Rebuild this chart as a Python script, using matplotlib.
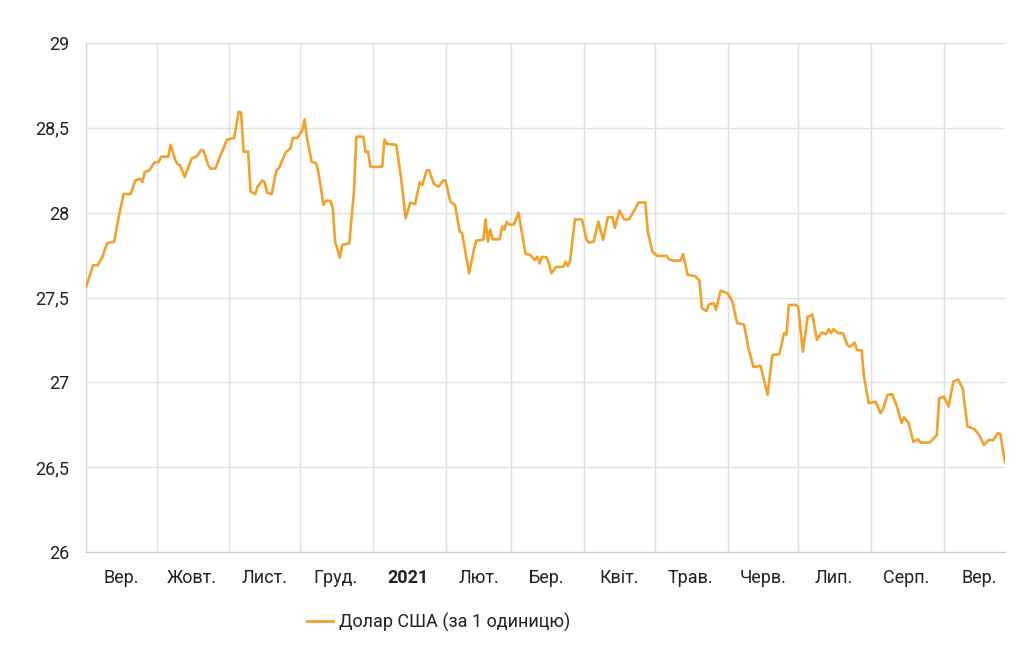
import matplotlib
matplotlib.use("Agg")
import matplotlib.pyplot as plt
from matplotlib.lines import Line2D
import pandas as pd

dates = [
    "2020-09-01", "2020-09-04", "2020-09-06", "2020-09-08", "2020-09-10", "2020-09-13", "2020-09-15",
    "2020-09-17", "2020-09-20", "2020-09-22", "2020-09-24", "2020-09-25", "2020-09-26", "2020-09-28",
    "2020-09-30", "2020-10-02", "2020-10-03", "2020-10-06", "2020-10-07", "2020-10-09", "2020-10-10",
    "2020-10-11", "2020-10-13", "2020-10-14", "2020-10-16", "2020-10-18", "2020-10-20", "2020-10-21",
    "2020-10-23", "2020-10-24", "2020-10-26", "2020-10-28", "2020-10-31", "2020-11-03", "2020-11-05",
    "2020-11-06", "2020-11-07", "2020-11-09", "2020-11-10", "2020-11-12", "2020-11-13", "2020-11-15",
    "2020-11-16", "2020-11-17", "2020-11-19", "2020-11-21", "2020-11-22", "2020-11-25", "2020-11-27",
    "2020-11-28", "2020-11-30", "2020-12-02", "2020-12-03", "2020-12-04", "2020-12-06", "2020-12-08",
    "2020-12-09", "2020-12-11", "2020-12-12", "2020-12-14", "2020-12-15", "2020-12-16", "2020-12-18",
    "2020-12-19", "2020-12-22", "2020-12-24", "2020-12-25", "2020-12-28", "2020-12-29", "2020-12-30",
    "2020-12-31", "2021-01-05", "2021-01-06", "2021-01-07", "2021-01-11", "2021-01-13", "2021-01-15",
    "2021-01-17", "2021-01-19", "2021-01-21", "2021-01-22", "2021-01-24", "2021-01-25", "2021-01-27",
    "2021-01-29", "2021-01-31", "2021-02-01", "2021-02-03", "2021-02-05", "2021-02-07", "2021-02-08",
    "2021-02-11", "2021-02-13", "2021-02-14", "2021-02-17", "2021-02-18", "2021-02-19", "2021-02-20",
    "2021-02-21", "2021-02-24", "2021-02-25", "2021-02-26", "2021-02-27", "2021-02-28", "2021-03-02",
    "2021-03-04", "2021-03-07", "2021-03-09", "2021-03-11", "2021-03-12", "2021-03-13", "2021-03-14",
    "2021-03-16", "2021-03-17", "2021-03-18", "2021-03-20", "2021-03-23", "2021-03-24", "2021-03-25",
    "2021-03-26", "2021-03-28", "2021-03-31", "2021-04-02", "2021-04-03", "2021-04-05", "2021-04-07",
    "2021-04-09", "2021-04-11", "2021-04-13", "2021-04-14", "2021-04-16", "2021-04-18", "2021-04-20",
    "2021-04-22", "2021-04-24", "2021-04-27", "2021-04-28", "2021-04-30", "2021-05-02", "2021-05-06",
    "2021-05-07", "2021-05-09", "2021-05-12", "2021-05-13", "2021-05-15", "2021-05-18", "2021-05-20",
    "2021-05-21", "2021-05-23", "2021-05-24", "2021-05-26", "2021-05-27", "2021-05-29", "2021-06-01",
    "2021-06-03", "2021-06-05", "2021-06-08", "2021-06-10", "2021-06-12", "2021-06-15", "2021-06-18",
    "2021-06-20", "2021-06-23", "2021-06-25", "2021-06-26", "2021-06-27", "2021-06-30", "2021-07-01",
    "2021-07-03", "2021-07-05", "2021-07-06", "2021-07-07", "2021-07-09", "2021-07-11", "2021-07-13",
    "2021-07-14", "2021-07-15", "2021-07-16", "2021-07-18", "2021-07-20", "2021-07-22", "2021-07-23",
    "2021-07-25", "2021-07-26", "2021-07-28", "2021-07-29", "2021-07-31", "2021-08-03", "2021-08-05",
    "2021-08-06", "2021-08-08", "2021-08-10", "2021-08-12", "2021-08-14", "2021-08-15", "2021-08-17",
    "2021-08-19", "2021-08-21", "2021-08-22", "2021-08-26", "2021-08-29", "2021-08-30", "2021-09-01",
    "2021-09-03", "2021-09-05", "2021-09-07", "2021-09-09", "2021-09-11", "2021-09-13", "2021-09-14",
    "2021-09-16", "2021-09-18", "2021-09-20", "2021-09-22", "2021-09-24", "2021-09-25", "2021-09-27",
]

usd_rate = [
    27.56, 27.69, 27.69, 27.74, 27.82, 27.83, 27.98,
    28.11, 28.11, 28.19, 28.20, 28.18, 28.24, 28.25,
    28.295, 28.30, 28.33, 28.33, 28.40, 28.31, 28.285,
    28.28, 28.21, 28.25, 28.32, 28.33, 28.37, 28.365,
    28.28, 28.26, 28.26, 28.33, 28.43, 28.44, 28.595,
    28.59, 28.36, 28.36, 28.124, 28.11, 28.153, 28.19,
    28.18, 28.118, 28.11, 28.25, 28.26, 28.356, 28.38,
    28.44, 28.44, 28.487, 28.55, 28.44, 28.30, 28.29,
    28.23, 28.045, 28.07, 28.07, 28.026, 27.83, 27.735,
    27.81, 27.82, 28.124, 28.448, 28.448, 28.356, 28.36,
    28.27, 28.27, 28.43, 28.405, 28.40, 28.21, 27.967,
    28.06, 28.05, 28.18, 28.16, 28.25, 28.25, 28.17,
    28.153, 28.19, 28.19, 28.065, 28.045, 27.888, 27.88,
    27.643, 27.78, 27.835, 27.84, 27.96, 27.83, 27.90,
    27.843, 27.843, 27.918, 27.90, 27.947, 27.93, 27.93,
    28.00, 27.757, 27.75, 27.72, 27.74, 27.70, 27.74,
    27.737, 27.70, 27.643, 27.68, 27.68, 27.71, 27.686,
    27.72, 27.96, 27.96, 27.84, 27.823, 27.83, 27.947,
    27.84, 27.973, 27.973, 27.91, 28.012, 27.96, 27.96,
    28.006, 28.06, 28.06, 27.888, 27.77, 27.745, 27.745,
    27.725, 27.717, 27.717, 27.757, 27.633, 27.627, 27.60,
    27.437, 27.42, 27.46, 27.466, 27.427, 27.54, 27.525,
    27.476, 27.35, 27.34, 27.19, 27.09, 27.097, 26.926,
    27.16, 27.167, 27.29, 27.28, 27.456, 27.456, 27.446,
    27.18, 27.387, 27.39, 27.40, 27.25, 27.293, 27.285,
    27.313, 27.29, 27.313, 27.29, 27.29, 27.22, 27.21,
    27.234, 27.19, 27.187, 27.034, 26.877, 26.886, 26.818,
    26.84, 26.926, 26.93, 26.857, 26.76, 26.794, 26.76,
    26.65, 26.665, 26.645, 26.645, 26.69, 26.906, 26.916,
    26.857, 27.004, 27.018, 26.965, 26.74, 26.73, 26.724,
    26.69, 26.63, 26.66, 26.66, 26.70, 26.696, 26.527,
]

month_labels = ["Вер.", "Жовт.", "Лист.", "Груд.", "2021", "Лют.", "Бер.",
                "Квіт.", "Трав.", "Черв.", "Лип.", "Серп.", "Вер."]
month_starts = ["2020-09-01", "2020-10-01", "2020-11-01", "2020-12-01", "2021-01-01",
                "2021-02-01", "2021-03-01", "2021-04-01", "2021-05-01", "2021-06-01",
                "2021-07-01", "2021-08-01", "2021-09-01"]
label_positions = ["2020-09-16", "2020-10-16", "2020-11-16", "2020-12-16", "2021-01-16",
                   "2021-02-15", "2021-03-16", "2021-04-16", "2021-05-16", "2021-06-16",
                   "2021-07-16", "2021-08-16", "2021-09-16"]
y_ticks = [26, 26.5, 27, 27.5, 28, 28.5, 29]
y_labels = ["26", "26,5", "27", "27,5", "28", "28,5", "29"]
series_name = "Долар США (за 1 одиницю)"

plt.rcParams['font.family'] = ['Roboto', 'DejaVu Sans']
TEXT = '#222222'
LINE = '#f2a22a'
GRID = '#e0e0e0'
FS = 13

fig = plt.figure(figsize=(10.28, 6.64), dpi=100)
ax = fig.add_axes([86 / 1028, (664 - 552) / 664, 919 / 1028, 509 / 664])

x = pd.to_datetime(dates)
ax.plot(x, usd_rate, color=LINE, lw=1.9, solid_joinstyle='round', solid_capstyle='round', zorder=3)

ax.set_ylim(26, 29)
ax.set_xlim(pd.Timestamp(dates[0]), pd.Timestamp(dates[-1]))

ax.set_yticks(y_ticks)
ax.set_yticklabels(y_labels)
ax.set_xticks(pd.to_datetime(month_starts))
ax.set_xticklabels([])
ax.set_xticks(pd.to_datetime(label_positions), minor=True)
ax.set_xticklabels(month_labels, minor=True)
for lbl in ax.get_xticklabels(minor=True):
    if lbl.get_text() == "2021":
        lbl.set_fontweight('bold')

ax.tick_params(axis='both', which='both', length=0, colors=TEXT, labelsize=FS)
ax.tick_params(axis='x', which='minor', pad=12)
ax.tick_params(axis='y', pad=12)
ax.grid(True, which='major', color=GRID, lw=1)
ax.set_axisbelow(True)
for s in ['top', 'right']:
    ax.spines[s].set_visible(False)
ax.spines['left'].set_color('#d0d0d0')
ax.spines['bottom'].set_color('#c8c8c8')

# legend
fig.add_artist(Line2D([307 / 1028, 333 / 1028], [1 - 621 / 664, 1 - 621 / 664],
                      color=LINE, lw=2, transform=fig.transFigure))
fig.text(339 / 1028, 1 - 622 / 664, series_name, color=TEXT, fontsize=FS,
         va='center', ha='left')

fig.savefig("out.png", dpi=100, facecolor='white')
